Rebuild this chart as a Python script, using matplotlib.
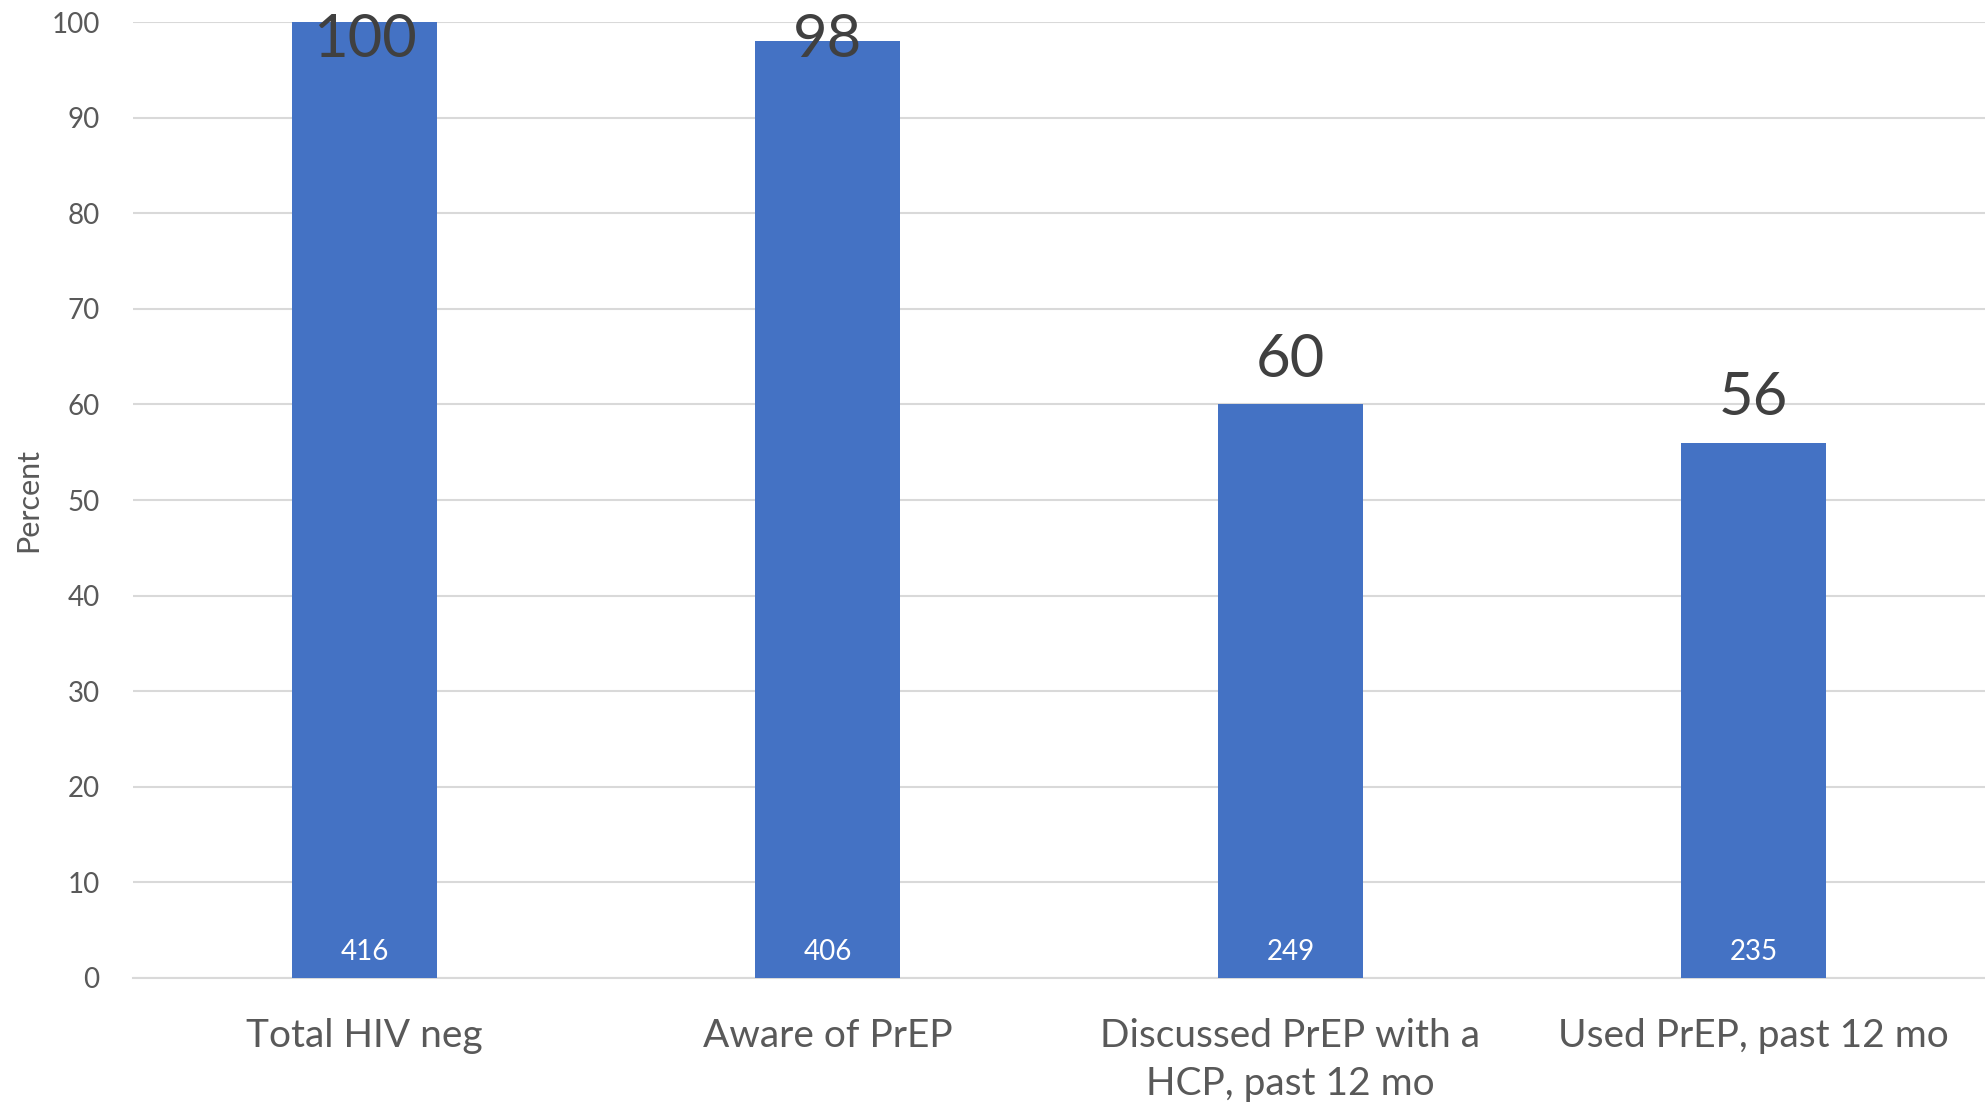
import matplotlib
matplotlib.use("Agg")
import matplotlib.pyplot as plt
import numpy as np

plt.rcParams['font.family'] = ['Lato', 'DejaVu Sans']

categories = ["Total HIV neg", "Aware of PrEP",
              "Discussed PrEP with a\nHCP, past 12 mo", "Used PrEP, past 12 mo"]
percent = [100, 98, 60, 56]
counts = [416, 406, 249, 235]
yticks = list(range(0, 101, 10))

bar_color = "#4472C4"
grid_color = "#D9D9D9"
tick_color = "#595959"
value_color = "#404040"

fig = plt.figure(figsize=(19.85, 11.05), dpi=100)
ax = fig.add_axes([0.067, 0.115, 0.933, 0.865])

x = np.arange(len(categories))
ax.bar(x, percent, width=0.313, color=bar_color, zorder=3)

ax.set_xlim(-0.5, len(categories) - 0.5)
ax.set_ylim(0, 100)
ax.set_yticks(yticks)
ax.set_xticks(x)
ax.set_xticklabels(categories, fontsize=28, color=tick_color, linespacing=1.4)
ax.tick_params(axis='x', length=0, pad=29)
ax.tick_params(axis='y', length=0, pad=24, labelsize=20, labelcolor=tick_color)

ax.yaxis.grid(True, color=grid_color, linewidth=1.5, zorder=0)
ax.set_axisbelow(True)
for side in ["top", "right", "left"]:
    ax.spines[side].set_visible(False)
ax.spines["bottom"].set_color(grid_color)
ax.spines["bottom"].set_linewidth(1.5)

fig.text(28 / 1985, 1 - 500 / 1105, "Percent", rotation=90, ha="center",
         va="center", fontsize=22, color=tick_color)

# percentage above each bar, kept inside the plot area near the top
for xi, v in zip(x, percent):
    ax.text(xi, min(v + 2.9, 96.4), f"{v}", ha="center", va="baseline",
            fontsize=43, color=value_color, zorder=4, clip_on=False)

# sample size inside the base of each bar
for xi, n in zip(x, counts):
    ax.text(xi, 1.9, f"{n}", ha="center", va="baseline",
            fontsize=20, color="white", zorder=4)

fig.savefig("out.png", dpi=100)
